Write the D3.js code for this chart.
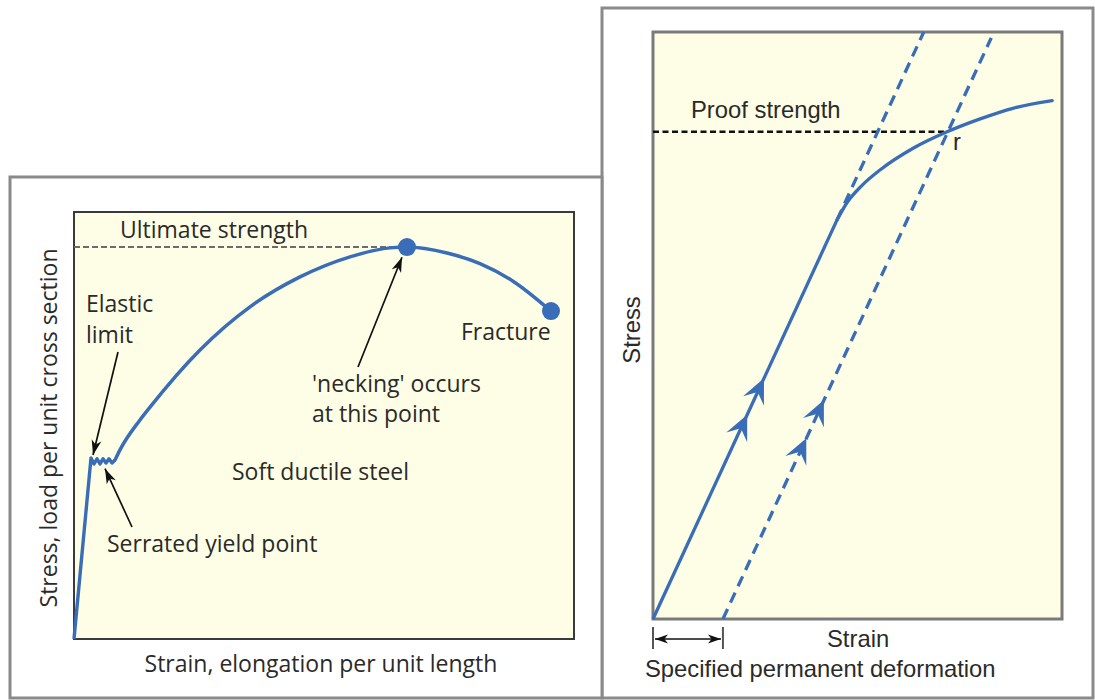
<!DOCTYPE html>
<html>
<head>
<meta charset="utf-8">
<script src="https://cdn.jsdelivr.net/npm/d3@7"></script>
<style>
  body { margin: 0; background: #fff; }
  .lt { font-family: "Open Sans", sans-serif; font-size: 23px; fill: #2a2a2a; }
  .rt { font-family: "Liberation Sans", Arial, sans-serif; font-size: 23.8px; fill: #2a2a2a; }
</style>
</head>
<body>
<svg width="1095" height="700"></svg>
<script>
const svg = d3.select("svg");

// ---- left chart: soft ductile steel (strain, stress in arbitrary units 0..10)
const steelElastic = [[0, 0], [0.34, 4.24]];
const steelSerrated = [[0.34, 4.24], [0.40, 4.10], [0.46, 4.22], [0.52, 4.10], [0.58, 4.22],
  [0.64, 4.12], [0.70, 4.22], [0.76, 4.12], [0.82, 4.19]];
const steelPlastic = [[0.82, 4.19], [0.92, 4.43], [1.32, 5.13], [1.52, 5.43], [2.52, 6.77],
  [3.52, 7.78], [4.52, 8.48], [5.52, 8.95], [6.32, 9.16], [6.66, 9.18], [7.46, 9.04],
  [8.12, 8.79], [8.78, 8.38], [9.54, 7.68]];
const ultimatePoint = [6.66, 9.18];
const fracturePoint = [9.54, 7.68];

// ---- right chart: proof strength construction
const proofElastic = [[0, 0], [4.5, 6.8]];
const proofPlastic = [[4.5, 6.8], [4.75, 7.1], [5.1, 7.38], [5.55, 7.65], [6.36, 8.02],
  [7.19, 8.30], [8.0, 8.52], [8.8, 8.70], [9.76, 8.83]];
const extensionLine = [[4.5, 6.8], [6.62, 10]];
const offsetLine = [[1.71, 0], [8.27, 9.9]];
const proofStress = 8.30;
const proofStrain = 7.21;
const loadArrowStress = [3.48, 4.10];
const offsetArrowStress = [3.08, 3.73];

const blue = "#3a6db8";
const cream = "#fefee6";

const xL = d3.scaleLinear().domain([0, 10]).range([74, 574]);
const yL = d3.scaleLinear().domain([0, 10]).range([639, 212]);
const xR = d3.scaleLinear().domain([0, 10]).range([653, 1062]);
const yR = d3.scaleLinear().domain([0, 10]).range([619, 32]);

// outer frames
svg.append("rect").attr("x", 602).attr("y", 8).attr("width", 491).attr("height", 690)
  .attr("fill", "#fff").attr("stroke", "#8a8a8a").attr("stroke-width", 3);
svg.append("rect").attr("x", 10).attr("y", 177).attr("width", 592).attr("height", 521)
  .attr("fill", "#fff").attr("stroke", "#8a8a8a").attr("stroke-width", 3);

// arrow heads
function head(g, tip, from, len, wid, color, notch = 0.72) {
  const a = Math.atan2(tip[1] - from[1], tip[0] - from[0]) * 180 / Math.PI;
  g.append("path")
    .attr("d", `M0,0L${-len},${-wid / 2}L${-len * notch},0L${-len},${wid / 2}Z`)
    .attr("transform", `translate(${tip[0]},${tip[1]}) rotate(${a})`)
    .attr("fill", color);
}
function pointer(g, from, tip) {
  g.append("line").attr("x1", from[0]).attr("y1", from[1])
    .attr("x2", tip[0]).attr("y2", tip[1])
    .attr("stroke", "#111").attr("stroke-width", 1.7);
  head(g, tip, from, 15, 10, "#111");
}

// ================= left panel
const gl = svg.append("g");
gl.append("rect").attr("x", xL(0)).attr("y", yL(10))
  .attr("width", xL(10) - xL(0)).attr("height", yL(0) - yL(10))
  .attr("fill", cream).attr("stroke", "#3a3a3a").attr("stroke-width", 2);

gl.append("line")
  .attr("x1", xL(0)).attr("x2", xL(ultimatePoint[0]))
  .attr("y1", yL(ultimatePoint[1])).attr("y2", yL(ultimatePoint[1]))
  .attr("stroke", "#6b6b6b").attr("stroke-width", 2).attr("stroke-dasharray", "6,3");

const lineL = d3.line().x(d => xL(d[0])).y(d => yL(d[1]));
gl.append("path").attr("d", lineL(steelElastic.concat(steelSerrated.slice(1))))
  .attr("fill", "none").attr("stroke", blue).attr("stroke-width", 3.4)
  .attr("stroke-linejoin", "round");
gl.append("path").attr("d", lineL.curve(d3.curveMonotoneX)(steelPlastic))
  .attr("fill", "none").attr("stroke", blue).attr("stroke-width", 3.5)
  .attr("stroke-linecap", "round");

gl.selectAll("circle").data([ultimatePoint, fracturePoint]).join("circle")
  .attr("cx", d => xL(d[0])).attr("cy", d => yL(d[1])).attr("r", 9)
  .attr("fill", blue);

gl.append("text").attr("class", "lt").attr("x", 120).attr("y", 238).text("Ultimate strength");
gl.append("text").attr("class", "lt").attr("x", 86).attr("y", 312).text("Elastic");
gl.append("text").attr("class", "lt").attr("x", 86).attr("y", 343).text("limit");
gl.append("text").attr("class", "lt").attr("x", 232).attr("y", 480).text("Soft ductile steel");
gl.append("text").attr("class", "lt").attr("x", 107).attr("y", 552).text("Serrated yield point");
gl.append("text").attr("class", "lt").attr("x", 312).attr("y", 392).text("'necking' occurs");
gl.append("text").attr("class", "lt").attr("x", 312).attr("y", 422).text("at this point");
gl.append("text").attr("class", "lt").attr("x", 461).attr("y", 340).text("Fracture");
gl.append("text").attr("class", "lt").attr("x", 321).attr("y", 672)
  .attr("text-anchor", "middle").text("Strain, elongation per unit length");
gl.append("text").attr("class", "lt").attr("text-anchor", "middle")
  .attr("transform", "translate(57,428) rotate(-90)")
  .text("Stress, load per unit cross section");

pointer(gl, [118, 352], [xL(0.38), yL(4.31)]);
pointer(gl, [132, 527], [xL(0.62), yL(3.99)]);
pointer(gl, [358, 367], [xL(6.56), yL(8.94)]);

// ================= right panel
const gr = svg.append("g");
gr.append("rect").attr("x", xR(0)).attr("y", yR(10))
  .attr("width", xR(10) - xR(0)).attr("height", yR(0) - yR(10))
  .attr("fill", cream).attr("stroke", "#7a7a7a").attr("stroke-width", 3);

const lineR = d3.line().x(d => xR(d[0])).y(d => yR(d[1]));

gr.append("line")
  .attr("x1", xR(0)).attr("x2", xR(proofStrain))
  .attr("y1", yR(proofStress)).attr("y2", yR(proofStress))
  .attr("stroke", "#111").attr("stroke-width", 2.6).attr("stroke-dasharray", "6,3.5");

[extensionLine, offsetLine].forEach(d => {
  gr.append("path").attr("d", lineR(d))
    .attr("fill", "none").attr("stroke", blue).attr("stroke-width", 3.3)
    .attr("stroke-dasharray", "11,7");
});
gr.append("path").attr("d", lineR(proofElastic))
  .attr("fill", "none").attr("stroke", blue).attr("stroke-width", 3.3);
gr.append("path").attr("d", lineR.curve(d3.curveMonotoneX)(proofPlastic))
  .attr("fill", "none").attr("stroke", blue).attr("stroke-width", 3.3)
  .attr("stroke-linecap", "round");

// direction arrows along the loading lines
const slope = proofElastic[1][1] / proofElastic[1][0];
function lineArrow(strain0, stress) {
  const s = strain0 + stress / slope;
  const tip = [xR(s), yR(stress)];
  const back = [xR(s - 1), yR(stress - slope)];
  head(gr, tip, back, 25, 23, blue, 0.6);
}
loadArrowStress.forEach(v => lineArrow(0, v));
offsetArrowStress.forEach(v => lineArrow(offsetLine[0][0], v));

gr.append("text").attr("class", "rt").attr("x", 691).attr("y", 118).text("Proof strength");
gr.append("text").attr("class", "rt").attr("x", 953).attr("y", 150).text("r");
gr.append("text").attr("class", "rt").attr("x", 827).attr("y", 647).text("Strain");
gr.append("text").attr("class", "rt").attr("x", 645).attr("y", 677).text("Specified permanent deformation");
gr.append("text").attr("class", "rt").attr("text-anchor", "middle")
  .attr("transform", "translate(640,330) rotate(-90)").text("Stress");

// specified permanent deformation bracket
const dimY = 639;
[0, offsetLine[0][0]].forEach(v => {
  gr.append("line").attr("x1", xR(v)).attr("x2", xR(v)).attr("y1", 627).attr("y2", 649)
    .attr("stroke", "#555").attr("stroke-width", 2);
});
gr.append("line").attr("x1", xR(0) + 2).attr("x2", xR(offsetLine[0][0]) - 2)
  .attr("y1", dimY).attr("y2", dimY).attr("stroke", "#111").attr("stroke-width", 1.5);
head(gr, [xR(0) + 2, dimY], [xR(1), dimY], 13, 9, "#111");
head(gr, [xR(offsetLine[0][0]) - 2, dimY], [xR(0), dimY], 13, 9, "#111");
</script>
</body>
</html>
